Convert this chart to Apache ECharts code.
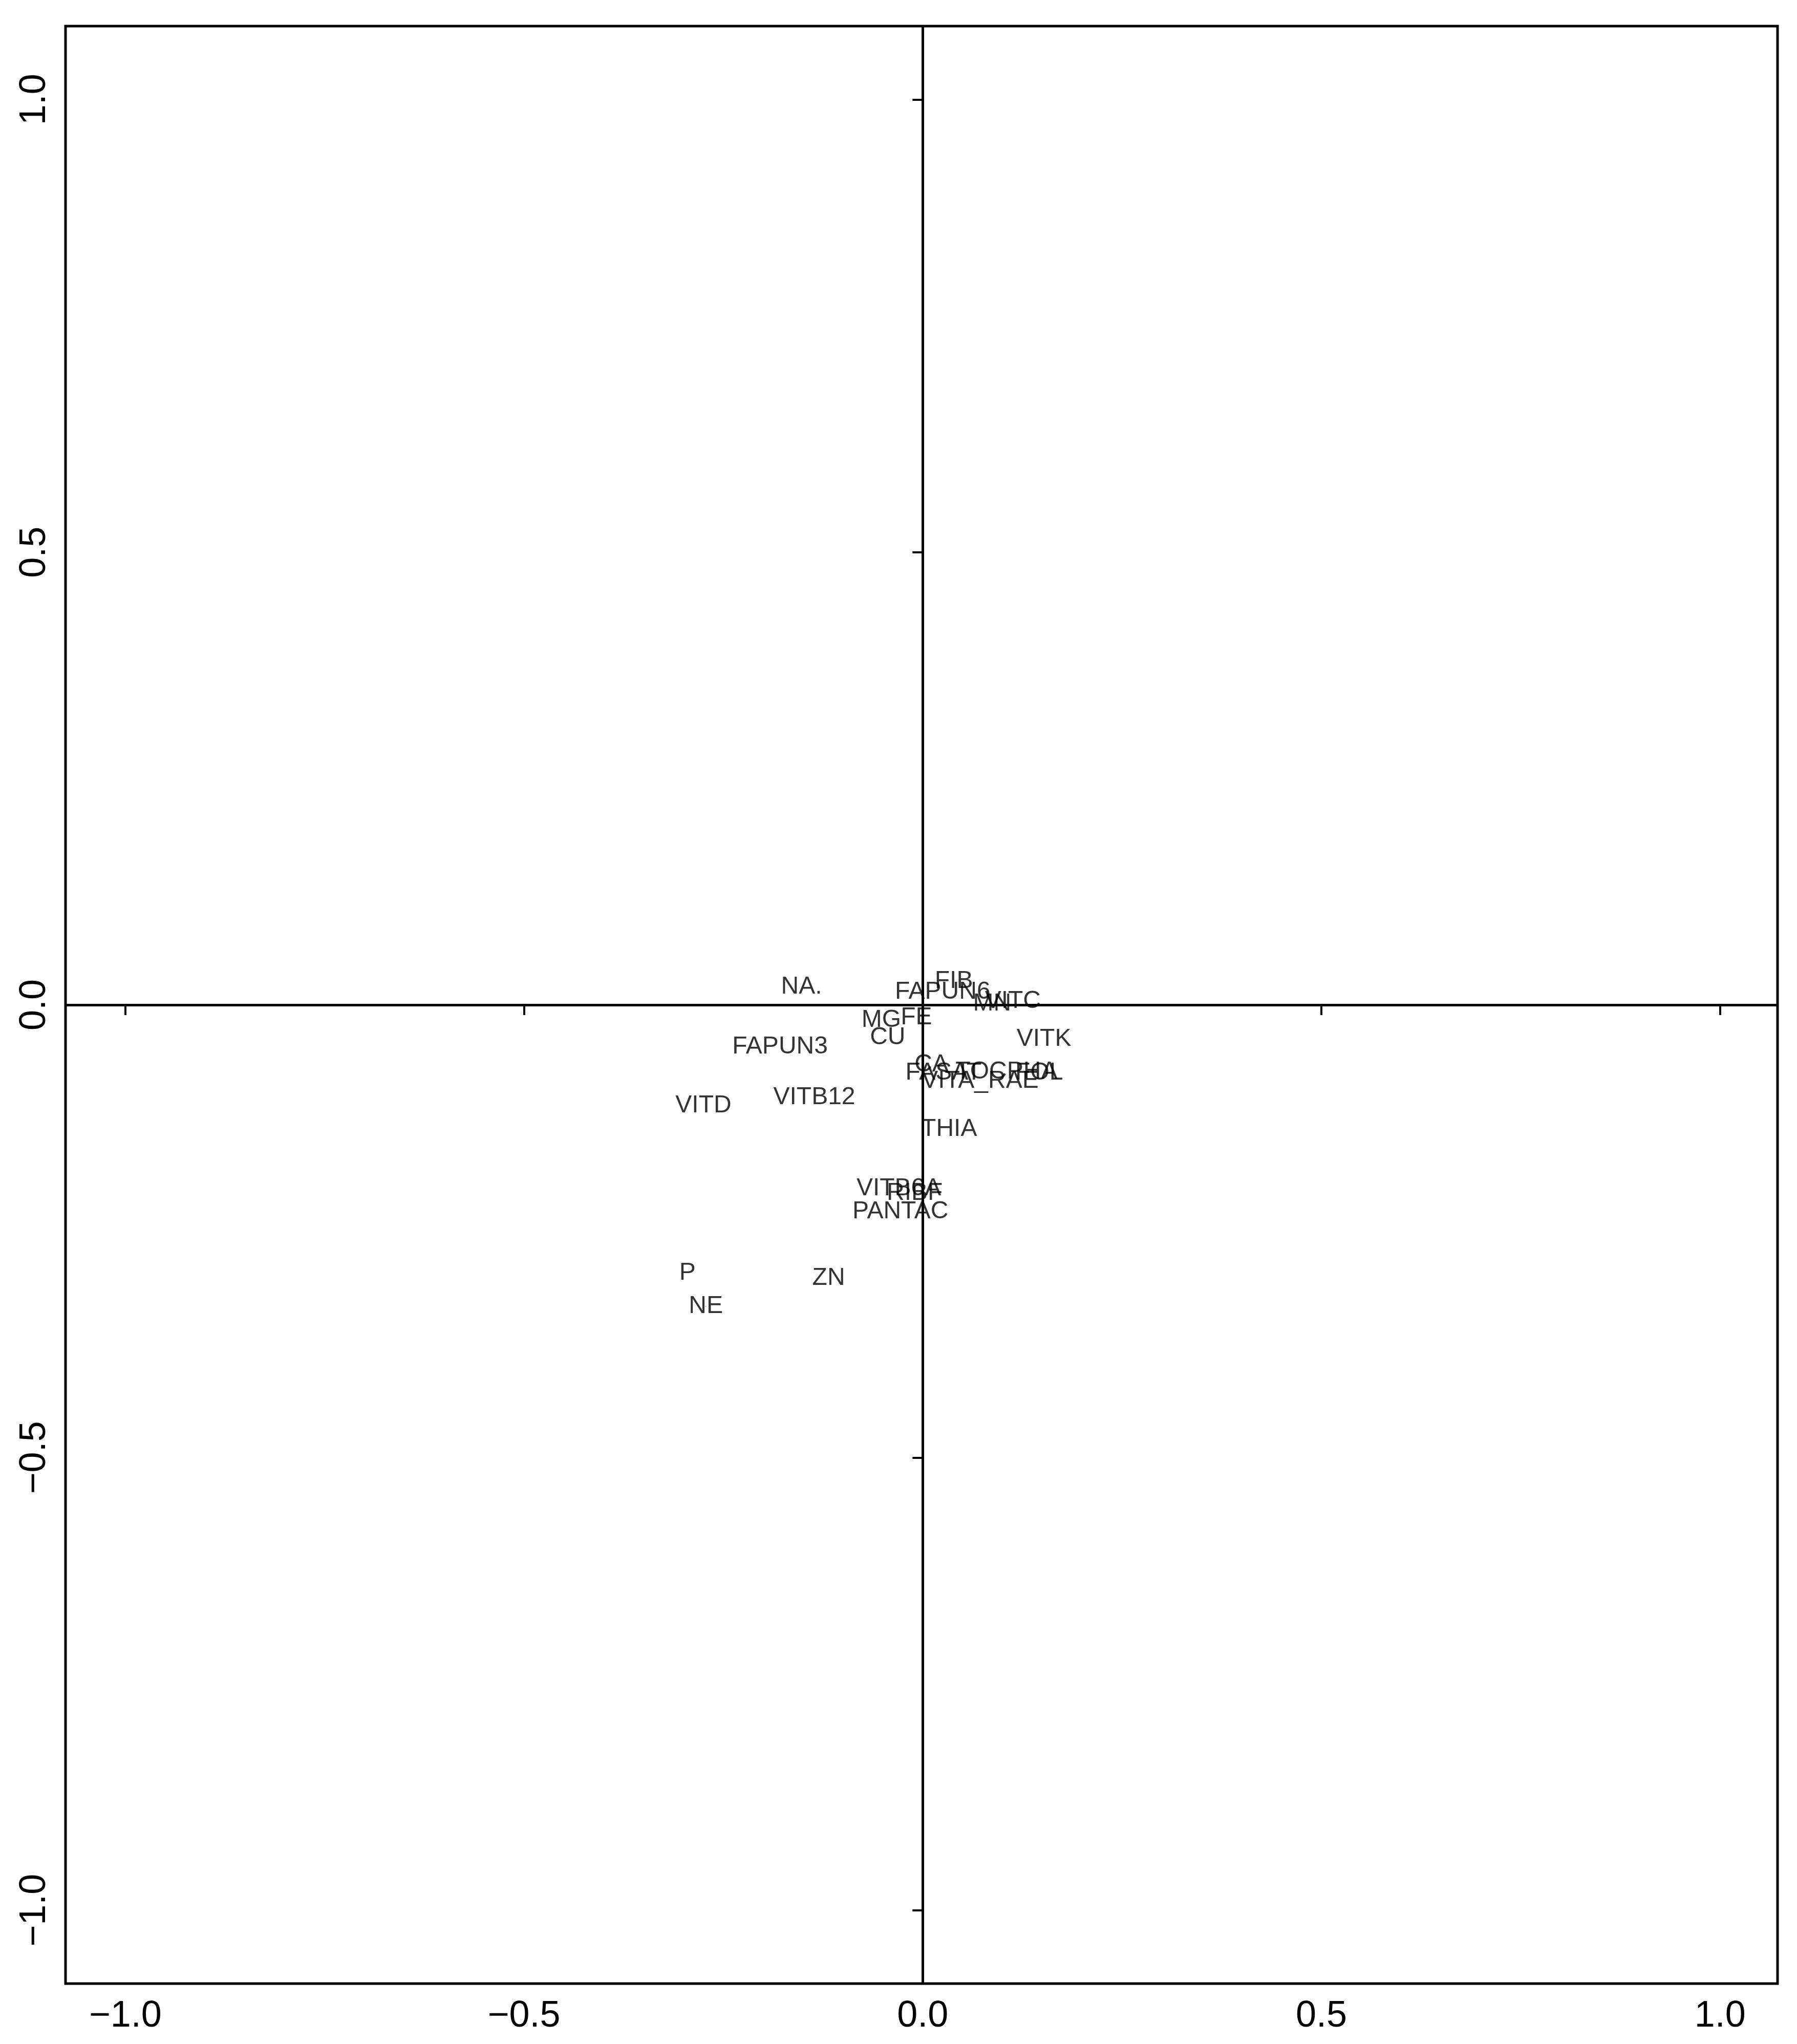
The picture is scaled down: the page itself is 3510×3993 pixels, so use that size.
<!DOCTYPE html>
<html>
<head>
<meta charset="utf-8">
<script src="https://cdn.jsdelivr.net/npm/echarts@6/dist/echarts.min.js"></script>
<style>html,body{margin:0;padding:0;background:#fff}#chart{width:3510px;height:3993px}</style>
</head>
<body>
<div id="chart"></div>
<script>
// variable labels and their coordinates
const names = ['NA.', 'FIB', 'FAPUN6', 'MN', 'VITC', 'MG', 'FE', 'CU', 'FAPUN3', 'VITK',
  'CA', 'FASAT', 'TOCPHA', 'FOL', 'VITA_RAE', 'VITD', 'VITB12', 'THIA', 'VITB6A', 'RIBF',
  'PANTAC', 'P', 'ZN', 'NE'];
const xValues = [-0.152, 0.039, 0.025, 0.087, 0.113, -0.052, -0.008, -0.044, -0.179, 0.152,
  0.011, 0.026, 0.105, 0.146, 0.072, -0.275, -0.136, 0.033, -0.030, -0.010,
  -0.028, -0.295, -0.118, -0.272];
const yValues = [0.020, 0.026, 0.014, 0.001, 0.004, -0.017, -0.014, -0.036, -0.046, -0.038,
  -0.066, -0.075, -0.074, -0.075, -0.084, -0.111, -0.102, -0.137, -0.203, -0.208,
  -0.228, -0.296, -0.302, -0.333];
const tickValues = [-1, -0.5, 0, 0.5, 1];

const fmt = v => (v < 0 ? '\u2212' : '') + Math.abs(v).toFixed(1);
const font = 'Liberation Sans, Arial, sans-serif';

const axisCommon = {
  type: 'value',
  axisLine: { show: false },
  splitLine: { show: false },
  axisTick: { show: true, customValues: tickValues, length: 20, lineStyle: { color: '#000', width: 4 } },
  axisLabel: { customValues: tickValues, formatter: fmt, color: '#000', fontSize: 72, fontFamily: font, margin: 28 }
};

const chart = echarts.init(document.getElementById('chart'));
chart.setOption({
  animation: false,
  backgroundColor: '#fff',
  grid: { left: 128, right: 38, top: 51, bottom: 118, show: true, borderColor: '#000', borderWidth: 5 },
  xAxis: Object.assign({}, axisCommon, { min: -1.075, max: 1.072 }),
  yAxis: Object.assign({}, axisCommon, {
    min: -1.081, max: 1.081,
    axisLabel: Object.assign({}, axisCommon.axisLabel, { rotate: 90, margin: 24 })
  }),
  series: [{
    type: 'scatter',
    symbolSize: 0,
    data: names.map((n, i) => ({ name: n, value: [xValues[i], yValues[i]] })),
    label: {
      show: true, position: 'inside', formatter: p => p.name,
      color: '#000', fontSize: 48, fontFamily: font
    },
    markLine: {
      silent: true, symbol: 'none', label: { show: false },
      lineStyle: { color: '#000', width: 5, type: 'solid' },
      data: [{ xAxis: 0 }, { yAxis: 0 }]
    }
  }]
});
</script>
</body>
</html>
